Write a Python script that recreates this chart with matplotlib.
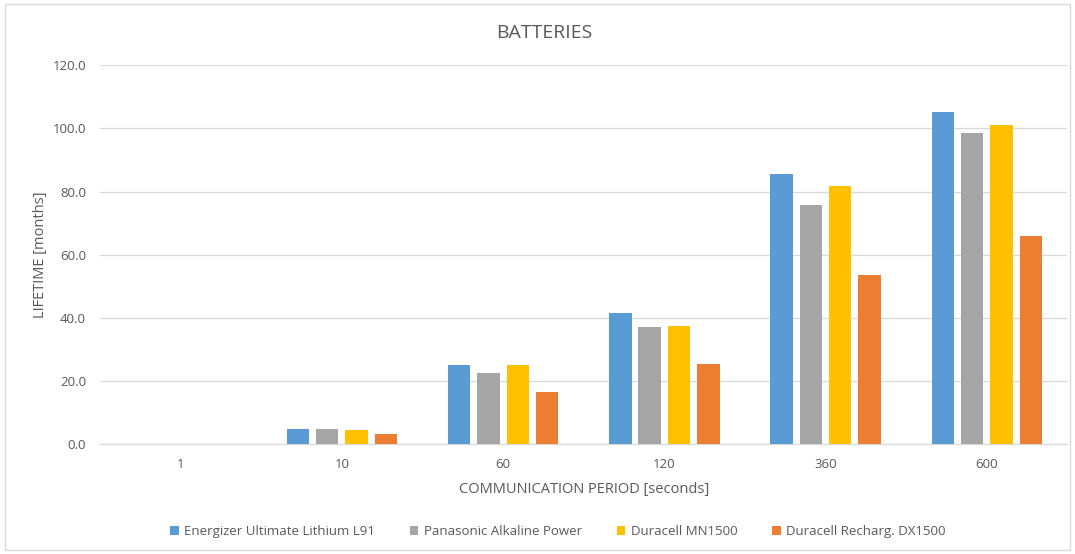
import matplotlib
matplotlib.use("Agg")
import matplotlib.pyplot as plt
import numpy as np
from matplotlib.patches import FancyBboxPatch

categories = ["1", "10", "60", "120", "360", "600"]
series_names = ["Energizer Ultimate Lithium L91", "Panasonic Alkaline Power",
                "Duracell MN1500", "Duracell Recharg. DX1500"]
energizer = [0.0, 4.7, 25.1, 41.4, 85.7, 105.2]
panasonic = [0.0, 4.7, 22.4, 37.0, 75.9, 98.7]
duracell = [0.0, 4.5, 24.9, 37.3, 81.9, 101.2]
duracell_re = [0.0, 3.1, 16.5, 25.3, 53.5, 65.8]
yticks = [0, 20, 40, 60, 80, 100, 120]

colors = ["#5B9BD5", "#A5A5A5", "#FFC000", "#ED7D31"]
txt = "#595959"
plt.rcParams['font.family'] = ['Open Sans', 'DejaVu Sans']

fig = plt.figure(figsize=(10.75, 5.54), dpi=100)
ax = fig.add_axes([0.093, 0.1986, 0.9, 0.6834])

x = np.arange(len(categories))
step = 0.182
width = 0.139
for i, (vals, name) in enumerate(zip([energizer, panasonic, duracell, duracell_re], series_names)):
    ax.bar(x + (i - 1.5) * step, vals, width, color=colors[i], label=name, zorder=3)

ax.set_xlim(-0.5, len(categories) - 0.5)
ax.set_ylim(0, 120)
ax.set_yticks(yticks)
ax.set_yticklabels([f"{v:.1f}" for v in yticks])
ax.set_xticks(x)
ax.set_xticklabels(categories)
ax.tick_params(axis='both', length=0, colors=txt, labelsize=9.5)
ax.tick_params(axis='x', pad=10)
ax.tick_params(axis='y', pad=10)
ax.grid(axis='y', color="#D9D9D9", lw=0.9, zorder=0)
for s in ["top", "right", "left"]:
    ax.spines[s].set_visible(False)
ax.spines["bottom"].set_color("#D9D9D9")
ax.spines["bottom"].set_linewidth(0.9)

ax.set_xlabel("COMMUNICATION PERIOD [seconds]", color=txt, fontsize=10.5, labelpad=8)
ax.set_ylabel("LIFETIME [months]", color=txt, fontsize=10.5, labelpad=3)
fig.text(0.5065, 0.94, "BATTERIES", ha="center", va="center", color=txt, fontsize=14)

leg = fig.legend(loc="center", bbox_to_anchor=(0.519, 0.041), ncol=4, frameon=False,
                 handlelength=0.65, handleheight=0.65, handletextpad=0.4,
                 columnspacing=2.65, fontsize=9.5)
for t in leg.get_texts():
    t.set_color(txt)

border = FancyBboxPatch((0.005, 0.008), 0.99, 0.984, boxstyle="square,pad=0",
                        transform=fig.transFigure, fill=False, edgecolor="#D9D9D9", lw=1)
fig.patches.append(border)

fig.savefig("out.png", dpi=100, facecolor="white")
